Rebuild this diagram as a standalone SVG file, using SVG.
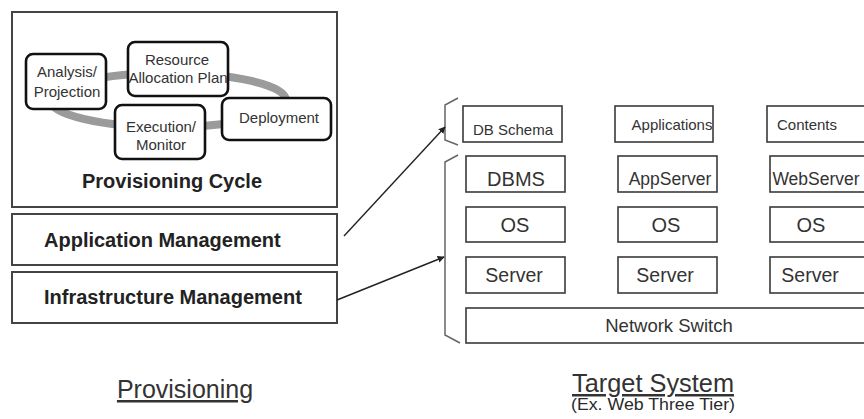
<svg xmlns="http://www.w3.org/2000/svg" width="864" height="419" viewBox="0 0 864 419">
  <defs>
    <marker id="arrowhead" viewBox="0 0 10 10" refX="9" refY="5" markerWidth="7" markerHeight="7" markerUnits="userSpaceOnUse" orient="auto">
      <path d="M0,0 L10,5 L0,10 z" fill="#222"/>
    </marker>
  </defs>
  <style>
    text { font-family: "Liberation Sans", Arial, sans-serif; fill: #2a2a2a; }
    .panel { fill: #fff; stroke: #444; stroke-width: 2; }
    .step { fill: #fff; stroke: #111; stroke-width: 2.6; }
    .step-label { font-size: 15px; text-anchor: middle; fill: #333; }
    .mgmt-label { font-size: 20px; font-weight: bold; fill: #222; }
    .tier { fill: #fff; stroke: #3a3a3a; stroke-width: 1.6; }
    .tier-label { text-anchor: middle; fill: #333; }
    .bracket { fill: none; stroke: #666; stroke-width: 1.5; }
    .link { fill: none; stroke: #222; stroke-width: 1.4; marker-end: url(#arrowhead); }
    .caption { font-size: 25px; text-anchor: middle; fill: #333; text-decoration: underline; }
  </style>
  <rect width="864" height="419" fill="#fff"/>

  <!-- Provisioning cycle panel -->
  <g id="provisioning-cycle">
    <rect class="panel" x="12" y="12" width="325" height="195"/>
    <ellipse cx="168" cy="100" rx="118" ry="27" fill="none" stroke="#9b9b9b" stroke-width="8"/>
    <text class="mgmt-label" x="172" y="188" text-anchor="middle">Provisioning Cycle</text>
  </g>
  <g id="analysis-projection">
    <rect class="step" x="26" y="54" width="80" height="55" rx="7"/>
    <text class="step-label" x="67" y="77">Analysis/</text>
    <text class="step-label" x="67" y="97">Projection</text>
  </g>
  <g id="resource-allocation-plan">
    <rect class="step" x="128" y="42" width="100" height="54" rx="7"/>
    <text class="step-label" x="177" y="65">Resource</text>
    <text class="step-label" x="178" y="83">Allocation Plan</text>
  </g>
  <g id="execution-monitor">
    <rect class="step" x="115" y="105" width="90" height="54" rx="7"/>
    <text class="step-label" x="161" y="132">Execution/</text>
    <text class="step-label" x="161" y="150">Monitor</text>
  </g>
  <g id="deployment">
    <rect class="step" x="222" y="98" width="109" height="42" rx="7"/>
    <text class="step-label" x="279" y="123">Deployment</text>
  </g>

  <!-- Management layers -->
  <g id="application-management">
    <rect class="panel" x="12" y="214" width="325" height="51"/>
    <text class="mgmt-label" x="44" y="247">Application Management</text>
  </g>
  <g id="infrastructure-management">
    <rect class="panel" x="12" y="272" width="325" height="51"/>
    <text class="mgmt-label" x="44" y="304">Infrastructure Management</text>
  </g>
  <text class="caption" x="185" y="398">Provisioning</text>

  <!-- Target system: application tier -->
  <g id="db-schema">
    <rect class="tier" x="463" y="106" width="99" height="36"/>
    <text class="tier-label" x="513" y="135" font-size="15">DB Schema</text>
  </g>
  <g id="applications">
    <rect class="tier" x="615" y="106" width="98" height="36"/>
    <text class="tier-label" x="672" y="130" font-size="15">Applications</text>
  </g>
  <g id="contents">
    <rect class="tier" x="767" y="106" width="110" height="36"/>
    <text class="tier-label" x="807" y="130" font-size="15">Contents</text>
  </g>

  <!-- Target system: infrastructure tier -->
  <g id="dbms">
    <rect class="tier" x="466" y="156" width="99" height="36"/>
    <text class="tier-label" x="516" y="186" font-size="20">DBMS</text>
  </g>
  <g id="appserver">
    <rect class="tier" x="618" y="156" width="99" height="36"/>
    <text class="tier-label" x="670" y="185" font-size="17.5">AppServer</text>
  </g>
  <g id="webserver">
    <rect class="tier" x="770" y="156" width="110" height="36"/>
    <text class="tier-label" x="816" y="185" font-size="17.5">WebServer</text>
  </g>
  <g id="os-1">
    <rect class="tier" x="466" y="207" width="99" height="35"/>
    <text class="tier-label" x="515" y="232" font-size="20">OS</text>
  </g>
  <g id="os-2">
    <rect class="tier" x="618" y="207" width="99" height="35"/>
    <text class="tier-label" x="666" y="232" font-size="20">OS</text>
  </g>
  <g id="os-3">
    <rect class="tier" x="770" y="207" width="110" height="35"/>
    <text class="tier-label" x="811" y="232" font-size="20">OS</text>
  </g>
  <g id="server-1">
    <rect class="tier" x="466" y="257" width="99" height="36"/>
    <text class="tier-label" x="514" y="282" font-size="19.5">Server</text>
  </g>
  <g id="server-2">
    <rect class="tier" x="618" y="257" width="99" height="36"/>
    <text class="tier-label" x="665" y="282" font-size="19.5">Server</text>
  </g>
  <g id="server-3">
    <rect class="tier" x="770" y="257" width="110" height="36"/>
    <text class="tier-label" x="810" y="282" font-size="19.5">Server</text>
  </g>
  <g id="network-switch">
    <rect class="tier" x="466" y="308" width="414" height="35"/>
    <text class="tier-label" x="669" y="332" font-size="18.5">Network Switch</text>
  </g>

  <!-- Grouping brackets -->
  <g id="brackets">
    <path class="bracket" d="M458,98 L445,105 L445,140 L458,145"/>
    <path class="bracket" d="M458,155 L445,162 L445,335 L460,343"/>
  </g>

  <text class="caption" x="653" y="392" textLength="162" lengthAdjust="spacingAndGlyphs">Target System</text>
  <text x="653" y="410" font-size="16" text-anchor="middle" fill="#333" textLength="164" lengthAdjust="spacingAndGlyphs">(Ex. Web Three Tier)</text>

  <!-- Connectors -->
  <g id="connectors">
    <line class="link" x1="344" y1="236" x2="445" y2="127"/>
    <line class="link" x1="337" y1="300" x2="444" y2="257"/>
  </g>
</svg>
